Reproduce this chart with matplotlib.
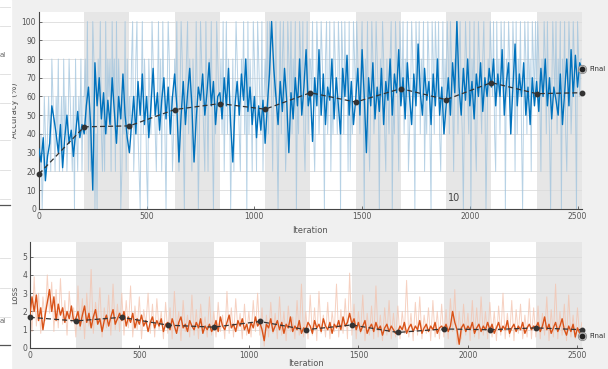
import matplotlib
matplotlib.use("Agg")
import matplotlib.pyplot as plt
import numpy as np

ITERS_PER_EPOCH = 210
N_EPOCHS = 12
LAST_ITER = ITERS_PER_EPOCH * N_EPOCHS

# smoothed training accuracy, every 10 iterations (one row per epoch)
acc_smooth = [
    32, 25, 38, 15, 28, 35, 55, 48, 40, 30, 45, 22, 38, 50, 35, 42, 28, 40, 52, 38, 45,
    40, 55, 65, 45, 10, 78, 55, 70, 48, 62, 40, 58, 45, 70, 52, 35, 60, 48, 72, 50, 38,
    30, 45, 60, 40, 68, 50, 72, 45, 60, 38, 55, 75, 50, 62, 42, 58, 70, 48, 65, 40, 60,
    72, 55, 25, 50, 68, 45, 62, 75, 55, 25, 48, 65, 58, 72, 50, 62, 78, 55, 68, 45, 60,
    62, 48, 70, 55, 75, 45, 25, 55, 68, 50, 72, 58, 80, 52, 65, 45, 60, 38, 55, 42, 58,
    35, 55, 72, 100, 75, 60, 45, 68, 52, 75, 58, 30, 62, 48, 70, 55, 80, 50, 65, 85, 55,
    62, 36, 70, 55, 85, 50, 72, 45, 65, 58, 80, 48, 70, 55, 40, 75, 60, 82, 50, 68, 45,
    58, 75, 50, 85, 60, 30, 70, 55, 78, 48, 65, 52, 75, 45, 68, 58, 80, 50, 72, 62, 85,
    55, 70, 48, 78, 60, 45, 72, 55, 88, 62, 50, 75, 58, 68, 45, 72, 55, 80, 50, 65, 40,
    55, 70, 50, 78, 62, 100, 65, 50, 75, 58, 80, 55, 68, 48, 72, 60, 78, 52, 70, 60, 75,
    65, 80, 55, 72, 60, 85, 50, 68, 78, 40, 65, 88, 55, 72, 60, 78, 50, 65, 45, 70, 55,
    68, 52, 75, 60, 80, 55, 70, 48, 65, 58, 50, 72, 45, 62, 80, 55, 85, 60, 82, 65, 78, 75,
]

# raw mini-batch accuracy, every 5 iterations, digit d means d*20 %
acc_raw_levels = (
    "212013212321432132412314231243213042132413"
    "342513125402043521315243415341524301325142"
    "324512452103524310432543213524153203542312"
    "435213542034524314325302543215314352032543"
    "342513524302413543214352405243154315432513"
    "435254314352035245312543524350325435213524"
    "435213542354304523513254325405425341513254"
    "354324530435213542354304354214324503254315"
    "435243512354305435243513254205425435213524"
    "354254314352453203543250435213543245302435"
    "435215342543504354235415243520354253415435"
    "354314354253203543524350435213542354305434"
    "4"
)

# smoothed training loss, every 10 iterations
loss_smooth = [
    1.7, 2.8, 2.0, 2.9, 1.5, 2.2, 1.0, 1.8, 2.5, 3.2, 2.0, 2.8, 1.5, 2.4, 1.8, 2.2, 1.4, 2.0, 1.6, 2.3, 1.5,
    1.6, 2.0, 1.2, 1.8, 2.3, 1.4, 1.9, 1.1, 1.7, 2.1, 1.3, 1.6, 0.9, 1.5, 1.8, 1.2, 1.7, 2.1, 1.3, 1.6, 1.9,
    1.5, 2.0, 1.2, 1.7, 1.4, 1.9, 1.1, 1.6, 1.3, 1.8, 1.2, 1.5, 0.9, 1.4, 1.7, 1.1, 1.5, 1.2, 1.6, 0.9, 1.3,
    1.4, 1.0, 1.6, 1.2, 0.8, 1.4, 1.7, 1.1, 1.3, 0.9, 1.5, 1.2, 1.0, 1.4, 1.1, 1.6, 0.8, 1.2, 1.0, 1.3, 0.9,
    1.1, 1.5, 0.9, 1.7, 1.2, 1.0, 1.4, 1.8, 1.1, 1.3, 0.9, 1.5, 1.2, 1.6, 1.0, 1.3, 0.8, 1.4, 1.1, 1.7, 1.2,
    1.4, 1.0, 0.4, 1.3, 1.1, 1.6, 0.9, 1.2, 1.5, 1.0, 1.4, 0.8, 1.3, 1.1, 1.7, 0.9, 1.2, 1.0, 1.5, 0.8, 1.1,
    1.0, 1.4, 1.2, 0.8, 1.5, 1.1, 1.3, 0.9, 1.6, 1.2, 1.0, 1.4, 0.8, 1.3, 1.1, 1.5, 1.0, 1.7, 1.2, 1.4, 1.9,
    1.3, 1.6, 1.0, 1.4, 0.9, 1.2, 1.5, 0.8, 1.1, 1.3, 0.9, 1.4, 1.0, 1.2, 0.7, 1.1, 1.3, 0.9, 1.2, 1.0, 0.8,
    0.9, 1.2, 1.0, 1.4, 0.8, 1.1, 1.3, 0.9, 1.2, 1.0, 1.5, 0.8, 1.1, 1.3, 0.9, 1.2, 1.0, 1.4, 0.8, 1.1, 1.2,
    1.0, 1.3, 0.9, 1.2, 2.0, 1.4, 1.0, 0.2, 1.1, 1.3, 0.9, 1.2, 1.0, 1.4, 0.8, 1.1, 1.3, 0.9, 1.2, 1.0, 1.4,
    1.0, 1.3, 0.8, 1.1, 1.4, 0.9, 1.2, 1.0, 1.5, 0.8, 1.1, 1.3, 0.9, 1.2, 1.0, 1.4, 0.8, 1.1, 1.3, 1.0, 1.2,
    1.1, 1.4, 0.9, 1.2, 1.7, 1.0, 1.3, 0.8, 1.1, 1.4, 0.9, 1.2, 1.6, 1.0, 0.7, 1.2, 0.9, 1.3, 0.6, 1.1, 0.8, 0.9,
]

# raw mini-batch loss, every 10 iterations
loss_raw = [
    2.5, 0.9, 3.9, 1.2, 3.0, 0.8, 2.8, 1.5, 4.0, 1.9, 3.6, 0.9, 3.2, 1.1, 3.8, 1.3, 2.6, 0.7, 3.1, 1.4, 2.2,
    0.6, 3.4, 1.0, 2.7, 0.5, 3.0, 1.2, 4.3, 0.8, 2.5, 1.5, 3.3, 0.6, 2.2, 1.1, 2.9, 0.7, 3.5, 1.0, 2.4, 0.9,
    3.0, 0.7, 2.6, 1.1, 3.4, 0.6, 2.3, 1.0, 2.8, 0.5, 2.1, 1.3, 3.0, 0.8, 2.4, 0.6, 2.7, 1.0, 2.0, 0.5, 2.5,
    0.8, 2.2, 0.5, 3.1, 1.0, 2.0, 0.4, 2.6, 0.9, 1.8, 0.6, 2.9, 0.7, 2.1, 0.5, 2.4, 1.0, 1.7, 0.6, 2.8, 0.7,
    2.0, 0.6, 2.5, 0.9, 1.8, 0.5, 3.1, 0.8, 2.2, 0.6, 2.7, 1.0, 1.9, 0.5, 2.4, 0.7, 2.0, 0.6, 2.6, 0.9, 3.0,
    0.7, 2.2, 0.1, 1.8, 0.6, 2.5, 0.8, 1.9, 0.5, 2.8, 0.7, 2.0, 0.4, 2.3, 0.9, 1.7, 0.5, 2.6, 0.7, 3.5, 0.6,
    2.0, 0.5, 2.9, 0.7, 2.2, 0.4, 3.1, 0.8, 1.8, 0.6, 2.5, 0.5, 2.0, 0.9, 3.5, 0.6, 2.1, 0.8, 2.7, 0.5, 4.1,
    0.7, 2.4, 0.5, 2.0, 0.8, 2.9, 0.4, 1.9, 0.7, 2.3, 0.5, 3.4, 0.6, 1.8, 0.4, 2.2, 0.7, 2.6, 0.5, 1.9, 0.6,
    2.3, 0.5, 2.0, 0.8, 3.7, 0.6, 1.9, 0.4, 2.5, 0.7, 2.8, 0.5, 1.8, 0.8, 2.2, 0.4, 2.6, 0.6, 2.0, 0.5, 2.4,
    0.6, 2.1, 0.5, 2.7, 0.9, 3.2, 0.2, 2.0, 0.5, 2.4, 0.7, 1.9, 0.4, 2.6, 0.6, 2.2, 0.5, 2.8, 0.7, 2.0, 0.5,
    2.5, 0.6, 2.0, 0.4, 2.3, 0.7, 3.0, 0.5, 1.9, 0.6, 2.6, 0.4, 2.1, 0.8, 2.4, 0.5, 1.8, 0.6, 2.7, 0.5, 2.2,
    0.6, 2.3, 0.5, 1.9, 0.7, 2.8, 0.4, 2.1, 0.6, 3.5, 0.5, 2.0, 0.7, 2.4, 0.4, 2.9, 0.6, 1.8, 0.5, 2.2, 0.6, 1.4,
]

# validation at the end of every epoch (iteration 0 included)
val_acc = [18.6, 43.8, 44.3, 53.0, 56.2, 53.2, 62.0, 57.0, 64.2, 58.3, 67.4, 61.5, 62.0]
val_loss = [1.68, 1.48, 1.68, 1.25, 1.14, 1.45, 1.0, 1.26, 0.85, 1.04, 1.0, 1.1, 1.0]
final_acc = 74.8
final_loss = 0.65

BLUE = "#0072BD"
BLUE_RAW = "#9fc3dd"
ORANGE = "#D95319"
ORANGE_RAW = "#f4c2ad"
BAND = "#e6e6e6"
TXT = "#555555"


def style_axes(ax, ylim, yticks):
    ax.set_facecolor("white")
    ax.set_xlim(0, LAST_ITER)
    ax.set_ylim(*ylim)
    ax.set_yticks(yticks)
    ax.set_xticks([0, 500, 1000, 1500, 2000, 2500])
    ax.tick_params(labelsize=5.5, colors=TXT, direction="in", length=2.5, width=0.6, pad=2)
    for side in ("top", "right"):
        ax.spines[side].set_visible(False)
    for side in ("left", "bottom"):
        ax.spines[side].set_color("#444444")
        ax.spines[side].set_linewidth(0.8)
    ax.grid(axis="y", color="#dcdcdc", linewidth=0.6)
    ax.set_axisbelow(True)
    for e in range(1, N_EPOCHS, 2):
        ax.axvspan(e * ITERS_PER_EPOCH, (e + 1) * ITERS_PER_EPOCH, color=BAND, lw=0, zorder=0)


fig = plt.figure(figsize=(6.08, 3.69), dpi=100, facecolor="#f0f0f0")

# cropped UI strip on the left edge
fig.patches.append(plt.Rectangle((0, 0), 0.018, 1, transform=fig.transFigure, color="white", zorder=0))
for yy in [0.98, 0.93, 0.80, 0.72, 0.62, 0.54, 0.46, 0.30, 0.22, 0.14]:
    fig.add_artist(plt.Line2D([0, 0.016], [yy, yy], color="#dddddd", lw=0.6))
for yy in [0.445, 0.065]:
    fig.add_artist(plt.Line2D([0, 0.016], [yy, yy], color="#555555", lw=0.9))
fig.text(0.0, 0.845, "al", fontsize=5, color="#666666")
fig.text(0.0, 0.125, "al", fontsize=5, color="#666666")

# accuracy panel
ax1 = fig.add_axes([0.064, 0.434, 0.893, 0.533])
style_axes(ax1, (0, 105), np.arange(0, 101, 10))
raw_acc = [int(c) * 20 for c in acc_raw_levels]
x_raw = np.linspace(0, LAST_ITER, len(raw_acc))
x_s = np.linspace(0, LAST_ITER, len(acc_smooth))
x_v = np.arange(len(val_acc)) * ITERS_PER_EPOCH
ax1.plot(x_raw, raw_acc, color=BLUE_RAW, lw=0.7, alpha=0.75, zorder=2)
ax1.plot(x_s, acc_smooth, color=BLUE, lw=1.0, zorder=3)
ax1.plot(x_v, val_acc, "--o", color="#333333", lw=0.9, ms=3.2, dashes=(4, 2.5), zorder=4, clip_on=False)
ax1.plot([LAST_ITER], [final_acc], "o", ms=6, mfc="#cfcfcf", mec="#888888", mew=0.6, zorder=5, clip_on=False)
ax1.plot([LAST_ITER], [final_acc], "o", ms=3.2, color="#222222", zorder=6, clip_on=False)
ax1.text(LAST_ITER + 35, final_acc, "Final", fontsize=5, color="#333333", va="center")
ax1.text(1900, 3, "10", fontsize=7, color="#444444", va="bottom")
ax1.set_ylabel("Accuracy (%)", fontsize=6, color=TXT, labelpad=2)
ax1.set_xlabel("Iteration", fontsize=6, color=TXT, labelpad=1)
ax1.xaxis.set_label_coords(0.5, -0.085)

# loss panel
ax2 = fig.add_axes([0.049, 0.057, 0.908, 0.287])
style_axes(ax2, (0, 5.8), range(0, 6))
x_lr = np.linspace(0, LAST_ITER, len(loss_raw))
x_ls = np.linspace(0, LAST_ITER, len(loss_smooth))
ax2.plot(x_lr, loss_raw, color=ORANGE_RAW, lw=0.7, alpha=0.75, zorder=2)
ax2.plot(x_ls, loss_smooth, color=ORANGE, lw=1.0, zorder=3)
ax2.plot(x_v, val_loss, "--o", color="#333333", lw=0.9, ms=3.2, dashes=(4, 2.5), zorder=4, clip_on=False)
ax2.plot([LAST_ITER], [final_loss], "o", ms=6, mfc="#cfcfcf", mec="#888888", mew=0.6, zorder=5, clip_on=False)
ax2.plot([LAST_ITER], [final_loss], "o", ms=3.2, color="#222222", zorder=6, clip_on=False)
ax2.text(LAST_ITER + 35, final_loss, "Final", fontsize=5, color="#333333", va="center")
ax2.set_ylabel("Loss", fontsize=6, color=TXT, labelpad=2)
ax2.set_xlabel("Iteration", fontsize=6, color=TXT, labelpad=1)
ax2.xaxis.set_label_coords(0.5, -0.10)

fig.savefig("out.png", dpi=100, facecolor=fig.get_facecolor())
